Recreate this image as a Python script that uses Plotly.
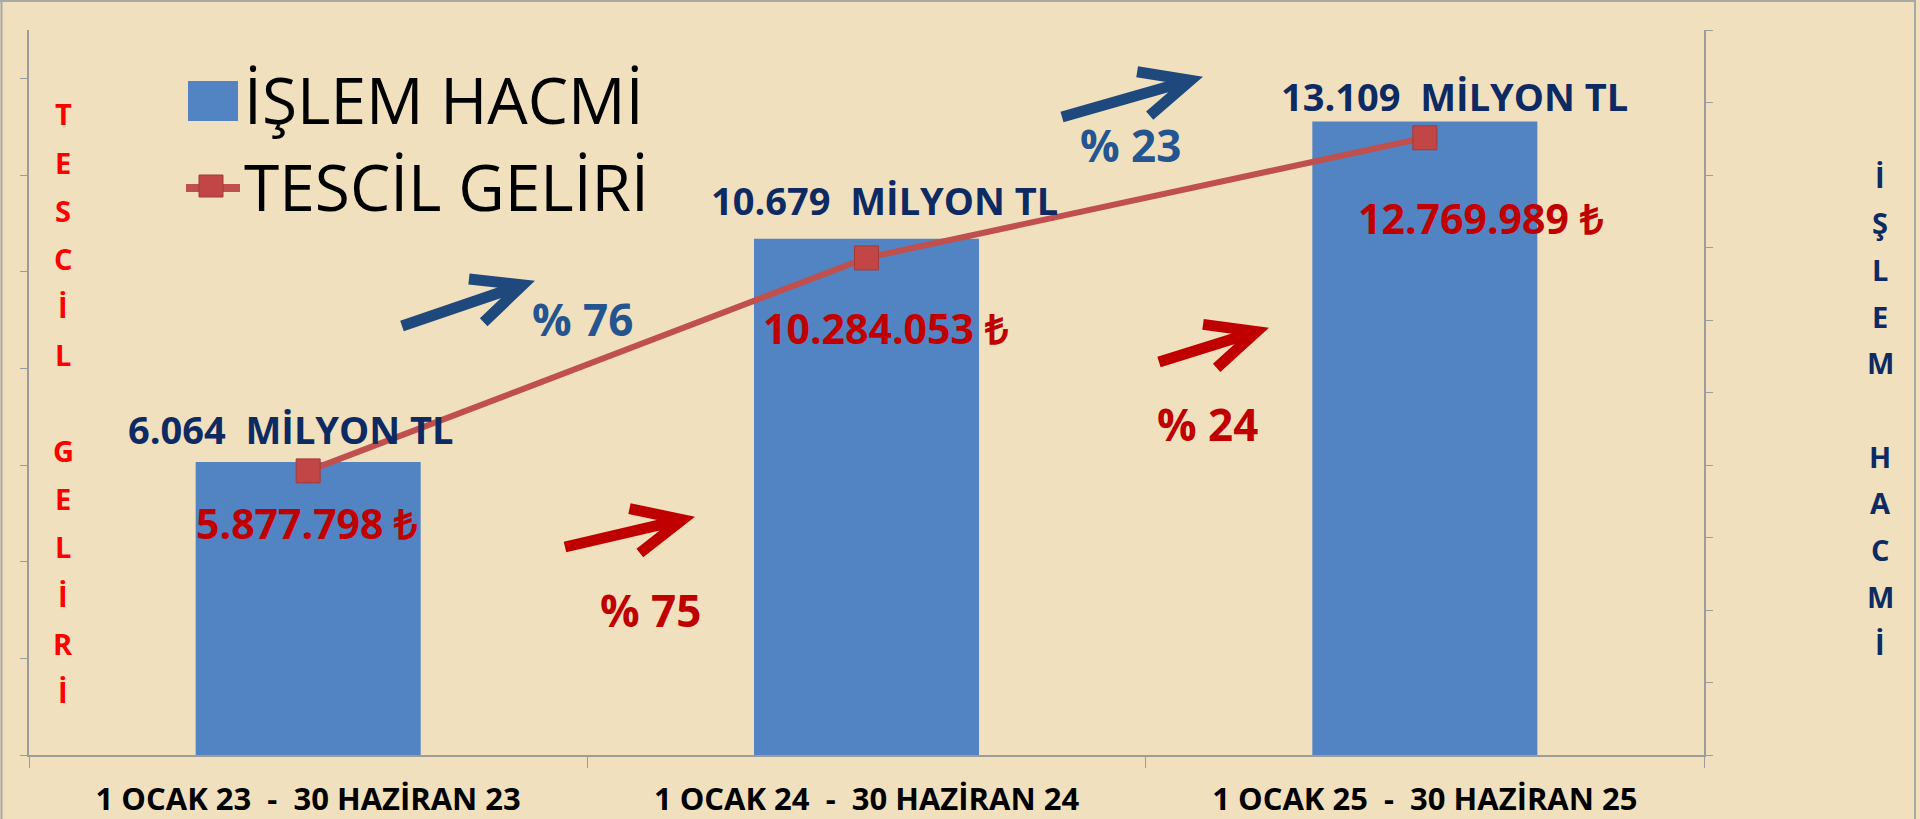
import math
import plotly.graph_objects as go

# ---------------- data ----------------
categories = [
    "1 OCAK 23  -  30 HAZİRAN 23",
    "1 OCAK 24  -  30 HAZİRAN 24",
    "1 OCAK 25  -  30 HAZİRAN 25",
]
islem_hacmi = [6064, 10679, 13109]                 # milyon TL (bars, left axis)
tescil_geliri = [5877798, 10284053, 12769989]      # TL (line, right axis)
islem_labels = ["6.064  MİLYON TL", "10.679  MİLYON TL", "13.109  MİLYON TL"]
tescil_labels = ["5.877.798 ₺", "10.284.053 ₺", "12.769.989 ₺"]
islem_growth = ["% 76", "% 23"]
tescil_growth = ["% 75", "% 24"]
series_names = ["İŞLEM HACMİ", "TESCİL GELİRİ"]
left_title = "TESCİL GELİRİ"
right_title = "İŞLEM HACMİ"

# ---------------- styles ----------------
BG = "#F1E0BE"
AXIS = "#9C9C9C"
BAR = "#5283C2"
LINE = "#C0504D"
MARK = "#C24646"
MARK_EDGE = "#A33A3A"
NAVY = "#0E2A62"
RED_DARK = "#C00000"
RED = "#FF0000"
BLUE = "#1F497D"
BLUE_TXT = "#24558F"
FONT = "Open Sans"

# plot-area pixel box
PL, PR, PT, PB = 29, 1704, 30, 755


def fx(x):
    return (x - PL) / (PR - PL)


def fy(y):
    return (PB - y) / (PB - PT)


def arrow_shape(tail, tip, color, width=11, arm=54, ang=25):
    dx, dy = tip[0] - tail[0], tip[1] - tail[1]
    ln = math.hypot(dx, dy)
    ux, uy = dx / ln, dy / ln
    # pull the vertex back so the mitred tip lands on the target point
    vx, vy = tip[0] - 12 * ux, tip[1] - 12 * uy
    arms = []
    for s in (1, -1):
        a = math.radians(ang * s)
        bx, by = -ux, -uy
        rx = bx * math.cos(a) - by * math.sin(a)
        ry = bx * math.sin(a) + by * math.cos(a)
        arms.append((vx + arm * rx, vy + arm * ry))
    path = (f"M{fx(tail[0])},{fy(tail[1])} L{fx(vx)},{fy(vy)} "
            f"M{fx(arms[0][0])},{fy(arms[0][1])} L{fx(vx)},{fy(vy)} "
            f"L{fx(arms[1][0])},{fy(arms[1][1])}")
    return dict(type="path", xref="paper", yref="paper", path=path,
                line=dict(color=color, width=width))


fig = go.Figure()
fig.add_trace(go.Bar(
    x=categories, y=islem_hacmi, name=series_names[0], yaxis="y",
    width=0.403, marker=dict(color=BAR, line=dict(width=0)),
))
fig.add_trace(go.Scatter(
    x=categories, y=tescil_geliri, name=series_names[1], yaxis="y2",
    mode="lines+markers",
    line=dict(color=LINE, width=6),
    marker=dict(symbol="square", size=24, color=MARK,
                line=dict(color=MARK_EDGE, width=1)),
))

ann = []
# data labels
bar_dx, bar_dy = [-17, 18, 30], [33, 39, 25]
line_dx, line_dy = [-2, 19, 56], [-52, -70, -80]
for i, c in enumerate(categories):
    ann.append(dict(x=c, y=islem_hacmi[i], xref="x", yref="y", text=islem_labels[i],
                    showarrow=False, xshift=bar_dx[i], yshift=bar_dy[i],
                    xanchor="center", yanchor="middle",
                    font=dict(family=FONT, size=38, color=NAVY, weight="bold")))
    ann.append(dict(x=c, y=tescil_geliri[i], xref="x", yref="y2", text=tescil_labels[i],
                    showarrow=False, xshift=line_dx[i], yshift=line_dy[i],
                    xanchor="center", yanchor="middle",
                    font=dict(family=FONT, size=41, color=RED_DARK, weight="bold")))

# growth labels + arrows
g_islem_pos = [(582, 319), (1130, 145)]
g_tescil_pos = [(650, 610), (1207, 424)]
a_islem = [((402, 326), (534, 281)), ((1062, 117), (1202, 77))]
a_tescil = [((565, 547), (694, 517)), ((1159, 362), (1268, 328))]
for txt, (x, y) in zip(islem_growth, g_islem_pos):
    ann.append(dict(x=fx(x), y=fy(y), xref="paper", yref="paper", text=txt, showarrow=False,
                    xanchor="center", yanchor="middle",
                    font=dict(family=FONT, size=44, color=BLUE_TXT, weight="bold")))
for txt, (x, y) in zip(tescil_growth, g_tescil_pos):
    ann.append(dict(x=fx(x), y=fy(y), xref="paper", yref="paper", text=txt, showarrow=False,
                    xanchor="center", yanchor="middle",
                    font=dict(family=FONT, size=44, color=RED_DARK, weight="bold")))

# vertical axis titles (stacked letters)
for k, ch in enumerate(left_title):
    if ch.strip():
        ann.append(dict(x=fx(63), y=fy(114 + 48.1 * k), xref="paper", yref="paper", text=ch,
                        showarrow=False, xanchor="center", yanchor="middle",
                        font=dict(family=FONT, size=29, color=RED, weight="bold")))
for k, ch in enumerate(right_title):
    if ch.strip():
        ann.append(dict(x=fx(1880), y=fy(176 + 46.7 * k), xref="paper", yref="paper", text=ch,
                        showarrow=False, xanchor="center", yanchor="middle",
                        font=dict(family=FONT, size=29, color=NAVY, weight="bold")))

# legend (drawn large like the reference)
ann.append(dict(x=fx(242), y=fy(100), xref="paper", yref="paper", text=series_names[0],
                showarrow=False, xanchor="left", yanchor="middle",
                font=dict(family=FONT, size=64, color="black")))
ann.append(dict(x=fx(242), y=fy(187), xref="paper", yref="paper", text=series_names[1],
                showarrow=False, xanchor="left", yanchor="middle",
                font=dict(family=FONT, size=64, color="black")))

shapes = [
    dict(type="rect", xref="paper", yref="paper", x0=fx(188), x1=fx(238), y0=fy(121), y1=fy(81),
         fillcolor=BAR, line=dict(width=0)),
    dict(type="line", xref="paper", yref="paper", x0=fx(186), x1=fx(240), y0=fy(188), y1=fy(188),
         line=dict(color=LINE, width=8)),
    dict(type="rect", xref="paper", yref="paper", x0=fx(199), x1=fx(223), y0=fy(197), y1=fy(175),
         fillcolor=MARK, line=dict(color=MARK_EDGE, width=1)),
    # outer chart border
    dict(type="line", xref="paper", yref="paper", x0=fx(0), x1=fx(1916), y0=fy(1), y1=fy(1),
         line=dict(color="#A8A8A8", width=2)),
    dict(type="line", xref="paper", yref="paper", x0=fx(1.5), x1=fx(1.5), y0=fy(0), y1=fy(819),
         line=dict(color="#A8A8A8", width=2)),
    dict(type="line", xref="paper", yref="paper", x0=fx(1915), x1=fx(1915), y0=fy(0), y1=fy(819),
         line=dict(color="#A8A8A8", width=2)),
]
for tail, tip in a_islem:
    shapes.append(arrow_shape(tail, tip, BLUE))
for tail, tip in a_tescil:
    shapes.append(arrow_shape(tail, tip, RED_DARK))

fig.update_layout(
    width=1920, height=819,
    margin=dict(l=PL, r=1920 - PR, t=PT, b=819 - PB, pad=0),
    paper_bgcolor=BG, plot_bgcolor=BG,
    showlegend=False,
    font=dict(family=FONT, color="black"),
    annotations=ann, shapes=shapes,
    xaxis=dict(type="category", showline=True, linecolor=AXIS, linewidth=2,
               ticks="outside", tickson="boundaries", ticklen=11, tickcolor=AXIS, tickwidth=1,
               tickfont=dict(family=FONT, size=31, color="black", weight="bold"),
               ticklabelstandoff=16,
               showgrid=False, zeroline=False, automargin=False),
    yaxis=dict(range=[0, 15000], tick0=0, dtick=2000, showline=True, linecolor=AXIS, linewidth=1.5,
               ticks="outside", ticklen=7, tickcolor=AXIS, tickwidth=1, showticklabels=False,
               showgrid=False, zeroline=False, automargin=False),
    yaxis2=dict(overlaying="y", side="right", range=[0, 15000000], tick0=0, dtick=1500000,
                showline=True, linecolor=AXIS, linewidth=1.5,
                ticks="outside", ticklen=7, tickcolor=AXIS, tickwidth=1, showticklabels=False,
                showgrid=False, zeroline=False, automargin=False),
)

fig.write_html("out.html", config={"displayModeBar": False},
               post_script="document.body.style.margin='0';document.body.style.overflow='hidden';")
